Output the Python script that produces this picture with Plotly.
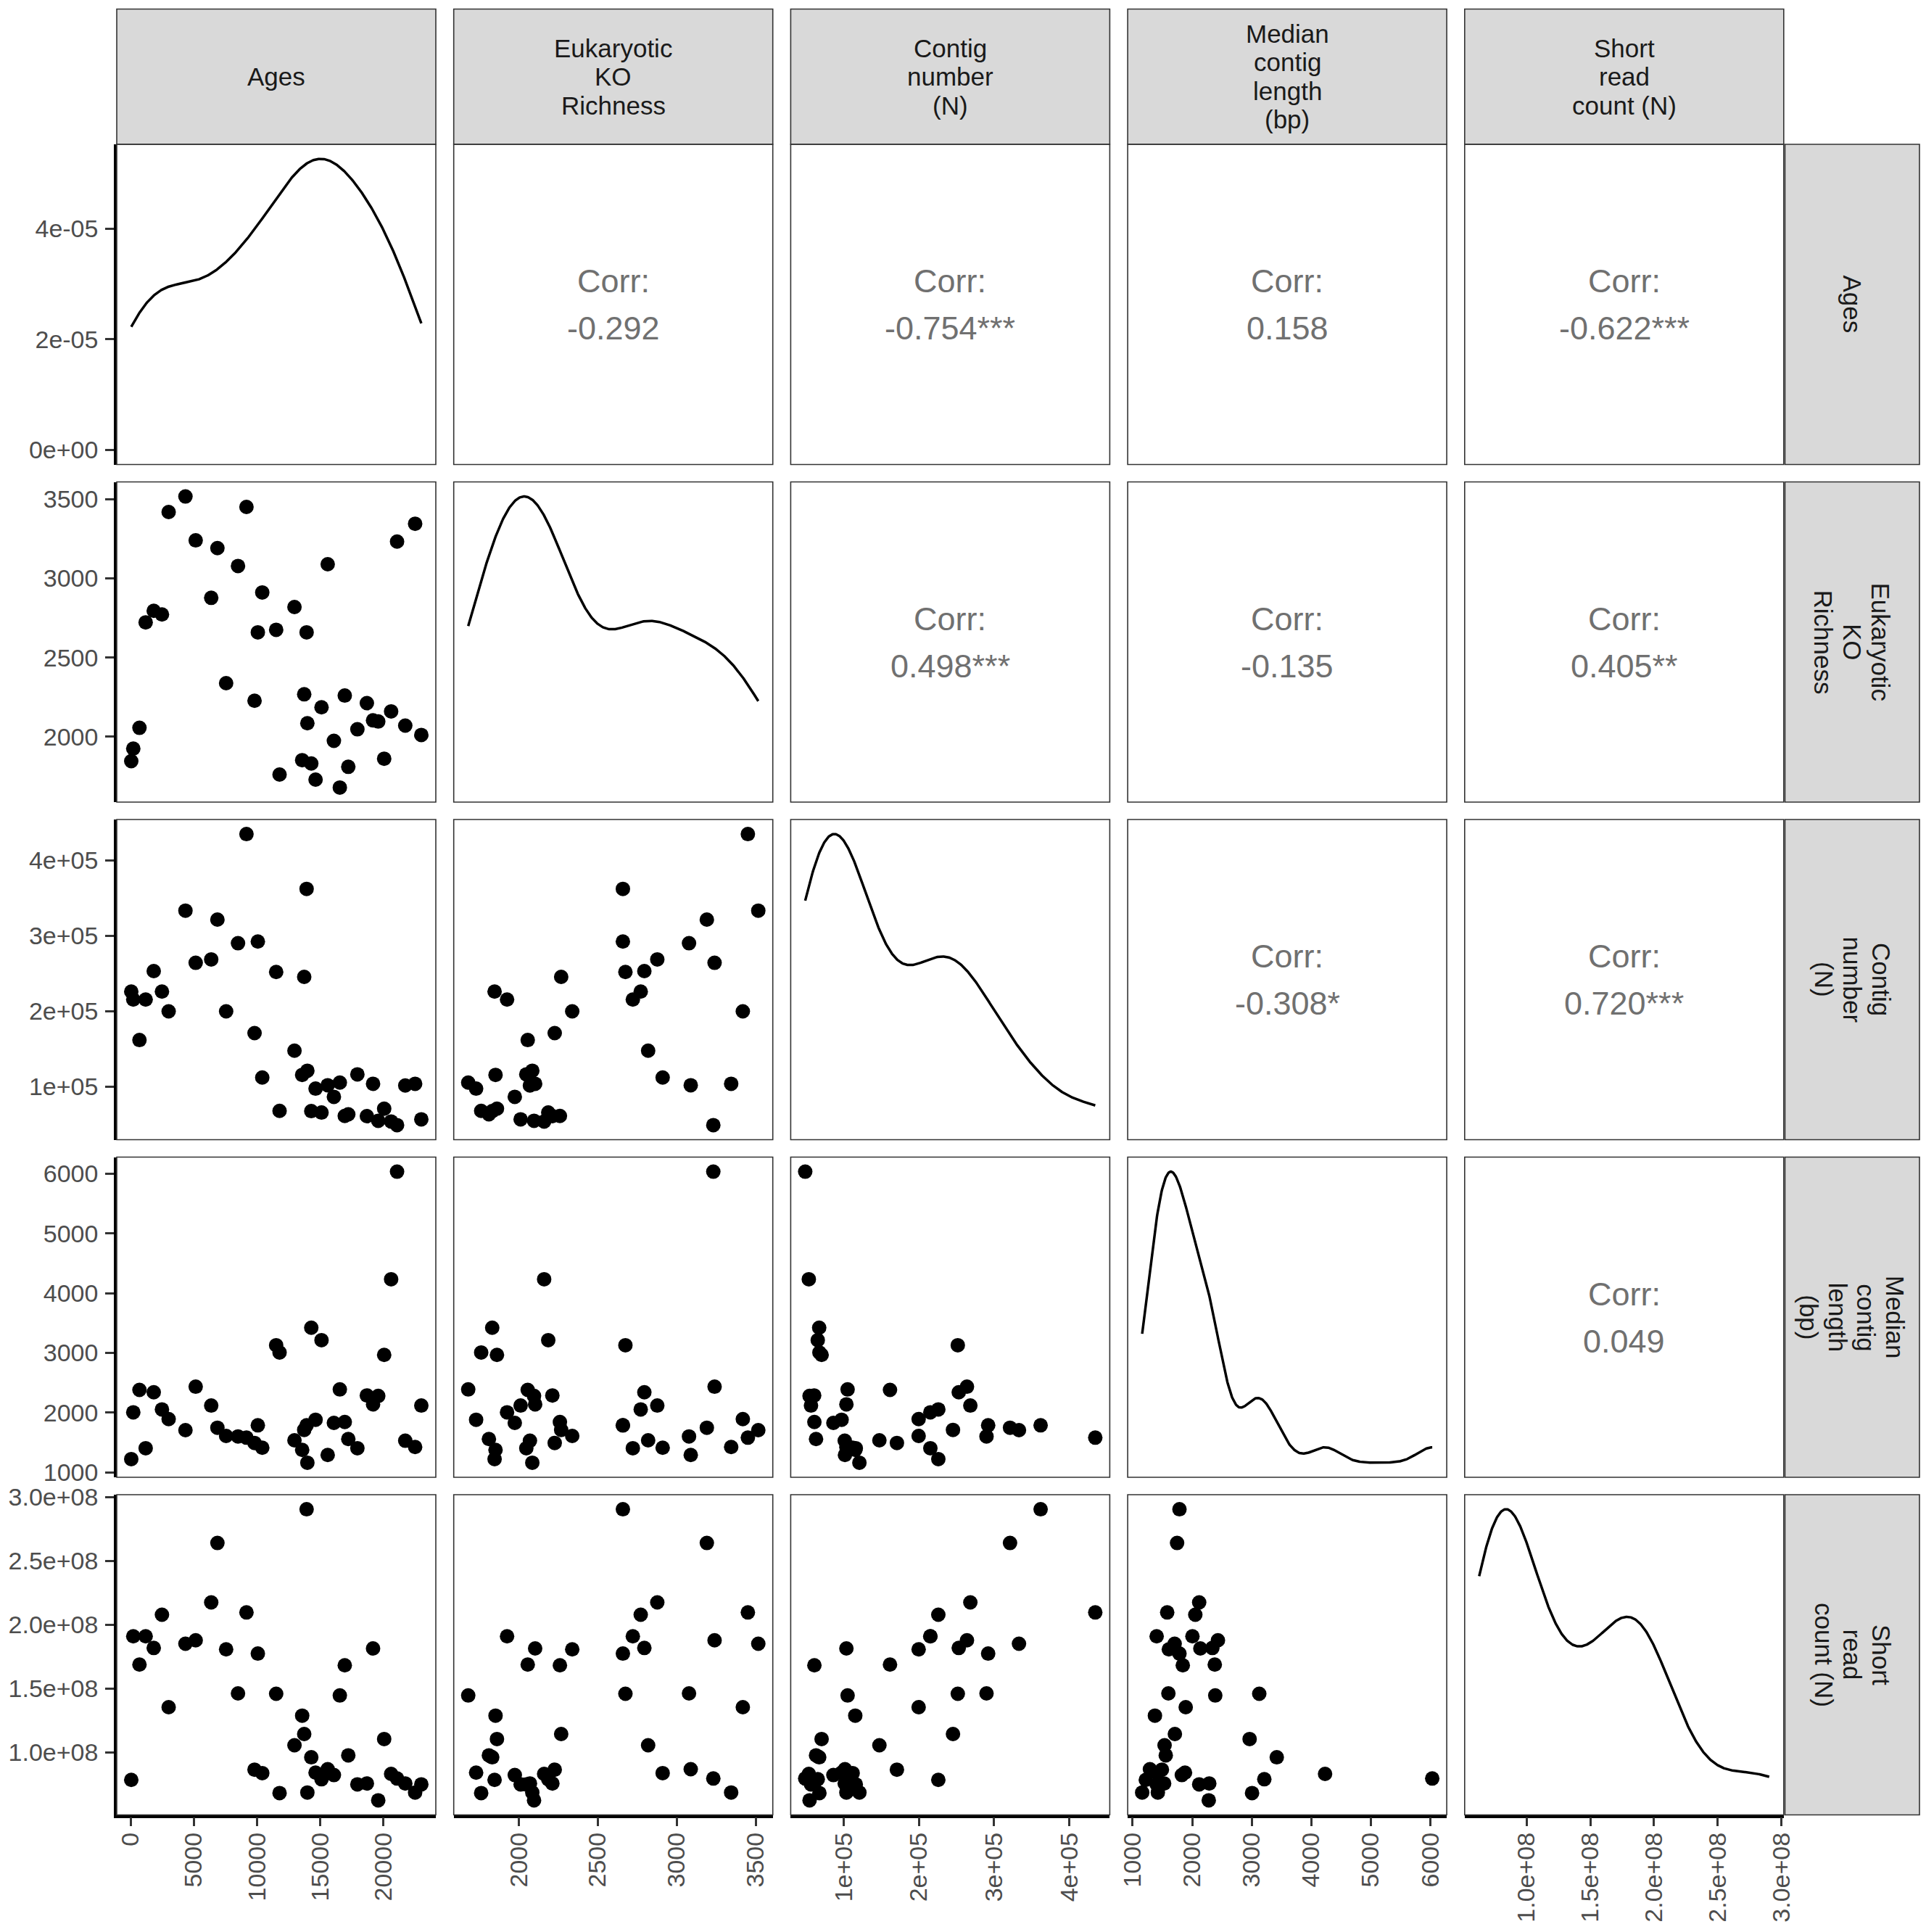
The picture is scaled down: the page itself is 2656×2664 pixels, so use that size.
import numpy as np
import plotly.graph_objects as go

# one entry per sample (sorted by age)
ages = [40, 200, 690, 1180, 1820, 2470, 3000, 4330, 5140, 6370, 6860, 7550, 8490, 9160,
        9800, 10060, 10410, 11510, 11780, 12960, 13570, 13730, 13920, 13980, 14290, 14630,
        15100, 15590, 16080, 16550, 16940, 17220, 17940, 18690, 19180, 19590, 20060, 20610,
        21080, 21730, 22510, 23000]
richness = [1846, 1925, 2056, 2722, 2795, 2772, 3419, 3517, 3240, 2877, 3191, 2338, 3078, 3451,
            2227, 2659, 2911, 2675, 1761, 2819, 1852, 2268, 2659, 2085, 1831, 1729,
            2186, 3089, 1974, 1679, 2260, 1810, 2047, 2212, 2103, 2096, 1861, 2160,
            3232, 2070, 3345, 2011]
contigs = [225800, 215200, 161500, 215200, 253000, 225800, 199600, 333100, 263900, 268400,
           321200, 199600, 289900, 434600, 170700, 292100, 111800, 251700, 67600, 147400,
           115300, 245300, 361900, 120800, 67300, 97100, 65400, 101600, 86200, 105100,
           60900, 63100, 116000, 60600, 103500, 54500, 70500, 53500, 48700, 101300,
           103500, 56400]
median_len = [1222, 2005, 2380, 1404, 2340, 2053, 1892, 1706, 2433, 2118, 1747, 1609, 1601, 1581,
              1492, 1787, 1412, 3127, 3006, 1537, 1375, 1710, 1787, 1161, 3421, 1880,
              3212, 1291, 1827, 2388, 1843, 1557, 1404, 2287, 2138, 2279, 2965, 4232,
              6032, 1529, 1424, 2118]
short_reads = [78.6e6, 191.0e6, 168.9e6, 191.0e6, 181.9e6, 207.9e6, 135.5e6, 185.2e6, 187.9e6,
               217.6e6, 264.1e6, 180.8e6, 146.3e6, 209.7e6, 86.6e6, 177.5e6, 83.9e6, 146.0e6,
               68.3e6, 105.7e6, 128.9e6, 114.5e6, 290.5e6, 68.7e6, 96.3e6, 84.3e6, 79.1e6,
               87.0e6, 82.4e6, 144.7e6, 168.3e6, 97.8e6, 75.1e6, 75.8e6, 181.5e6, 62.6e6,
               110.6e6, 83.3e6, 79.7e6, 75.8e6, 68.7e6, 75.1e6]

columns = [ages, richness, contigs, median_len, short_reads]
strip_labels = [["Ages"], ["Eukaryotic", "KO", "Richness"], ["Contig", "number", "(N)"],
                ["Median", "contig", "length", "(bp)"], ["Short", "read", "count (N)"]]

tick_vals = [[0, 5000, 10000, 15000, 20000],
             [2000, 2500, 3000, 3500],
             [1e5, 2e5, 3e5, 4e5],
             [1000, 2000, 3000, 4000, 5000, 6000],
             [1.0e8, 1.5e8, 2.0e8, 2.5e8, 3.0e8]]
tick_text = [["0", "5000", "10000", "15000", "20000"],
             ["2000", "2500", "3000", "3500"],
             ["1e+05", "2e+05", "3e+05", "4e+05"],
             ["1000", "2000", "3000", "4000", "5000", "6000"],
             ["1.0e+08", "1.5e+08", "2.0e+08", "2.5e+08", "3.0e+08"]]
density_ticks = [0, 2e-5, 4e-5]
density_text = ["0e+00", "2e-05", "4e-05"]

# correlation labels shown in the upper triangle (row, col)
corr_labels = {(0, 1): "-0.292", (0, 2): "-0.754***", (0, 3): "0.158", (0, 4): "-0.622***",
               (1, 2): "0.498***", (1, 3): "-0.135", (1, 4): "0.405**",
               (2, 3): "-0.308*", (2, 4): "0.720***",
               (3, 4): "0.049"}

W, H = 2656, 2664
LEFT, TOP = 161, 199
PW, PH = 440, 441.5
DX, DY = 464.7, 465.5
STRIP_TOP = 12.5
STRIP_R0, STRIP_R1 = 2461.5, 2647
FONT = "Liberation Sans, Arial, sans-serif"
XTICKFONT = dict(family=FONT, size=34, color="#4D4D4D")
YTICKFONT = dict(family=FONT, size=34, color="#4D4D4D")
STRIPFONT = dict(family=FONT, size=35, color="#1A1A1A")
CORRFONT = dict(family=FONT, size=45, color="#707070")
LINE_GAP = 39.5


def fx(x):
    return x / W


def fy(y):
    return 1 - y / H


def padded(v):
    lo, hi = min(v), max(v)
    d = (hi - lo) * 0.05
    return [lo - d, hi + d]


def density(v):
    # gaussian kernel, bw.nrd0 as in R
    x = np.asarray(v, float)
    sd = x.std(ddof=1)
    q75, q25 = np.percentile(x, [75, 25])
    bw = 0.9 * min(sd, (q75 - q25) / 1.34) * len(x) ** -0.2
    grid = np.linspace(x.min(), x.max(), 512)
    z = (grid[:, None] - x[None, :]) / bw
    dens = np.exp(-0.5 * z ** 2).sum(axis=1) / (len(x) * bw * np.sqrt(2 * np.pi))
    return grid, dens


fig = go.Figure()
shapes = []
annotations = []
layout_axes = {}
n = len(columns)

for r in range(n):
    for c in range(n):
        x0 = LEFT + c * DX
        y0 = TOP + r * DY
        x1, y1 = x0 + PW, y0 + PH
        shapes.append(dict(type="rect", xref="paper", yref="paper",
                           x0=fx(x0), x1=fx(x1), y0=fy(y1), y1=fy(y0),
                           line=dict(color="#333333", width=1.6), layer="above"))
        if r < c:
            cx, cy = (x0 + x1) / 2, (y0 + y1) / 2
            annotations.append(dict(text="Corr:", x=fx(cx), y=fy(cy - 32), xref="paper", yref="paper",
                                    showarrow=False, font=CORRFONT, xanchor="center", yanchor="middle"))
            annotations.append(dict(text=corr_labels[(r, c)], x=fx(cx), y=fy(cy + 33), xref="paper",
                                    yref="paper", showarrow=False, font=CORRFONT,
                                    xanchor="center", yanchor="middle"))
            continue

        k = r * n + c + 1
        xa = "x" if k == 1 else f"x{k}"
        ya = "y" if k == 1 else f"y{k}"
        if r == c:
            gx, gy = density(columns[c])
            fig.add_trace(go.Scatter(x=gx, y=gy, mode="lines", line=dict(color="black", width=3.5),
                                     xaxis=xa, yaxis=ya, showlegend=False, hoverinfo="skip"))
            ymax = gy.max()
            yrange = [-0.05 * ymax, 1.05 * ymax]
        else:
            fig.add_trace(go.Scatter(x=columns[c], y=columns[r], mode="markers",
                                     marker=dict(size=20, color="black", line_width=0),
                                     xaxis=xa, yaxis=ya, showlegend=False))
            yrange = padded(columns[r])

        bottom = r == n - 1
        leftcol = c == 0
        xaxis = dict(domain=[fx(x0), fx(x1)], range=padded(columns[c]), anchor=ya,
                     showgrid=False, zeroline=False, automargin=False,
                     showline=bottom, linecolor="black", linewidth=3.5,
                     ticks="outside" if bottom else "", ticklen=12, tickwidth=3, tickcolor="#333333",
                     showticklabels=bottom, tickmode="array", tickvals=tick_vals[c],
                     ticktext=tick_text[c], tickangle=-90, tickfont=XTICKFONT, ticklabelstandoff=-5)
        if r == 0 and c == 0:
            yt, ytt = density_ticks, density_text
        else:
            yt, ytt = tick_vals[r], tick_text[r]
        yaxis = dict(domain=[fy(y1), fy(y0)], range=yrange, anchor=xa,
                     showgrid=False, zeroline=False, automargin=False,
                     showline=leftcol, linecolor="black", linewidth=3.5,
                     ticks="outside" if leftcol else "", ticklen=12, tickwidth=3, tickcolor="#333333",
                     showticklabels=leftcol, tickmode="array", tickvals=yt, ticktext=ytt,
                     tickfont=YTICKFONT, ticklabelstandoff=3)
        layout_axes["xaxis" if k == 1 else f"xaxis{k}"] = xaxis
        layout_axes["yaxis" if k == 1 else f"yaxis{k}"] = yaxis

# top strips
for c, lines in enumerate(strip_labels):
    x0 = LEFT + c * DX
    shapes.append(dict(type="rect", xref="paper", yref="paper",
                       x0=fx(x0), x1=fx(x0 + PW), y0=fy(TOP), y1=fy(STRIP_TOP),
                       fillcolor="#D9D9D9", line=dict(color="#333333", width=1.6), layer="below"))
    cy = (STRIP_TOP + TOP) / 2
    for i, t in enumerate(lines):
        yy = cy + (i - (len(lines) - 1) / 2) * LINE_GAP
        annotations.append(dict(text=t, x=fx(x0 + PW / 2), y=fy(yy), xref="paper", yref="paper",
                                showarrow=False, font=STRIPFONT, xanchor="center", yanchor="middle"))

# right strips
for r, lines in enumerate(strip_labels):
    y0 = TOP + r * DY
    shapes.append(dict(type="rect", xref="paper", yref="paper",
                       x0=fx(STRIP_R0), x1=fx(STRIP_R1), y0=fy(y0 + PH), y1=fy(y0),
                       fillcolor="#D9D9D9", line=dict(color="#333333", width=1.6), layer="below"))
    cx = (STRIP_R0 + STRIP_R1) / 2
    for i, t in enumerate(lines):
        xx = cx + ((len(lines) - 1) / 2 - i) * LINE_GAP
        annotations.append(dict(text=t, x=fx(xx), y=fy(y0 + PH / 2), xref="paper", yref="paper",
                                showarrow=False, font=STRIPFONT, textangle=90,
                                xanchor="center", yanchor="middle"))

fig.update_layout(
    width=W, height=H,
    margin=dict(l=0, r=0, t=0, b=0),
    template="none",
    paper_bgcolor="white", plot_bgcolor="white",
    showlegend=False,
    shapes=shapes, annotations=annotations,
    **layout_axes,
)

# drop the default page margin so the figure sits at the window's corner
fig.write_html("out.html", config={"displayModeBar": False},
               post_script="document.body.style.margin = '0';")
